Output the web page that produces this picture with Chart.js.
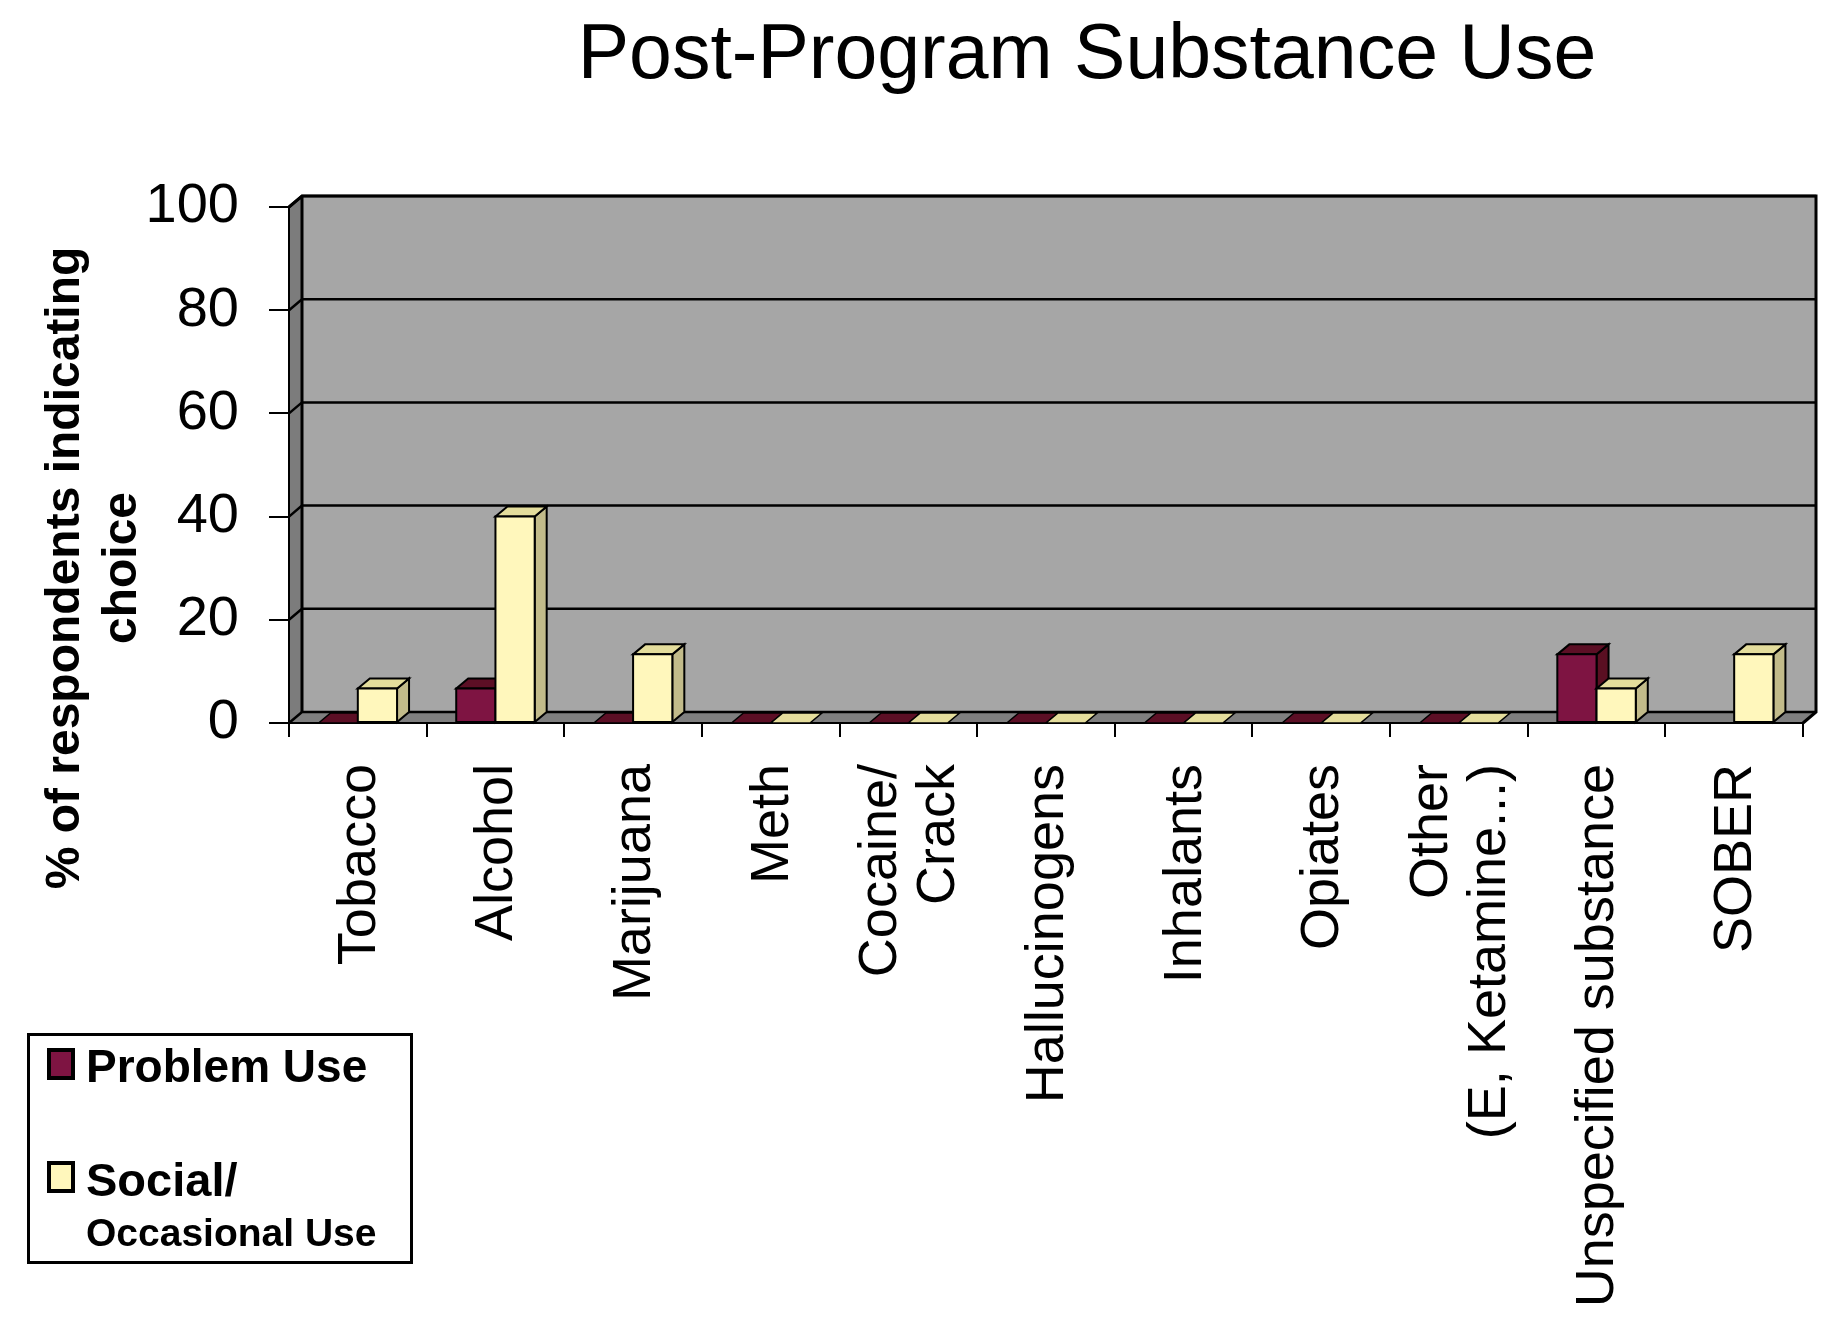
<!DOCTYPE html>
<html>
<head>
<meta charset="utf-8">
<title>Post-Program Substance Use</title>
<script src="https://cdn.jsdelivr.net/npm/chart.js@4.4.0/dist/chart.umd.min.js"></script>
<style>
  html, body { margin: 0; padding: 0; background: #ffffff; }
  canvas { display: block; }
</style>
</head>
<body>
<canvas id="chart" width="1829" height="1322"></canvas>
<script>
// ---- data ----
const categories = [
  'Tobacco', 'Alcohol', 'Marijuana', 'Meth', ['Cocaine/', 'Crack'],
  'Hallucinogens', 'Inhalants', 'Opiates', ['Other', '(E, Ketamine...)'],
  'Unspecified substance', 'SOBER'
];
const problemUse = [0, 6.7, 0, 0, 0, 0, 0, 0, 0, 13.3, null];
const socialUse  = [6.7, 40, 13.3, 0, 0, 0, 0, 0, 0, 6.7, 13.3];
const yTickValues = [0, 20, 40, 60, 80, 100];
const seriesNames = ['Problem Use', 'Social/ Occasional Use'];
const legendLines = [['Problem Use'], ['Social/', 'Occasional Use']];
const chartTitle = 'Post-Program Substance Use';
const yAxisTitle = ['% of respondents indicating', 'choice'];

// ---- look ----
const FONT = '"Liberation Sans", Arial, Helvetica, sans-serif';
const shades = [
  { front: '#7e1442', top: '#5c0f25', side: '#5a0f22' },
  { front: '#fff7bc', top: '#e4dd9c', side: '#c2bb8a' }
];
const WALL = { dx: 13, dy: -11 };   // depth of the back wall
const BAR  = { dx: 12, dy: -10 };   // depth of each bar

function poly(ctx, pts, fill, stroke, lw) {
  ctx.beginPath();
  ctx.moveTo(pts[0][0], pts[0][1]);
  for (let i = 1; i < pts.length; i++) ctx.lineTo(pts[i][0], pts[i][1]);
  ctx.closePath();
  if (fill) { ctx.fillStyle = fill; ctx.fill(); }
  if (stroke) { ctx.strokeStyle = stroke; ctx.lineWidth = lw; ctx.lineJoin = 'miter'; ctx.stroke(); }
}

// back wall, side wall, floor and gridlines on the wall
const wallsPlugin = {
  id: 'walls',
  beforeDraw(chart) {
    const { ctx, chartArea: a, scales: { y } } = chart;
    const { dx, dy } = WALL;
    ctx.save();
    // back wall
    poly(ctx, [[a.left + dx, a.top + dy], [a.right + dx, a.top + dy],
               [a.right + dx, a.bottom + dy], [a.left + dx, a.bottom + dy]], '#a6a6a6');
    // left side wall
    poly(ctx, [[a.left, a.top], [a.left + dx, a.top + dy],
               [a.left + dx, a.bottom + dy], [a.left, a.bottom]], '#7c7c7c');
    // floor
    poly(ctx, [[a.left, a.bottom], [a.left + dx, a.bottom + dy],
               [a.right + dx, a.bottom + dy], [a.right, a.bottom]], '#7f7f7f');
    // gridlines across side wall and back wall
    ctx.strokeStyle = '#000';
    ctx.lineWidth = 2.5;
    y.ticks.forEach(t => {
      const py = y.getPixelForValue(t.value);
      ctx.beginPath();
      ctx.moveTo(a.left, py);
      ctx.lineTo(a.left + dx, py + dy);
      ctx.lineTo(a.right + dx, py + dy);
      ctx.stroke();
    });
    // wall outline
    ctx.lineWidth = 3;
    ctx.beginPath();
    ctx.moveTo(a.left + dx, a.bottom + dy);
    ctx.lineTo(a.left + dx, a.top + dy);
    ctx.moveTo(a.left, a.top);
    ctx.lineTo(a.left + dx, a.top + dy);
    ctx.lineTo(a.right + dx, a.top + dy);
    ctx.lineTo(a.right + dx, a.bottom + dy);
    ctx.lineTo(a.right, a.bottom);
    ctx.stroke();
    ctx.restore();
  }
};

// bars drawn as boxes: front, top and right side faces, painted left to right
const barsPlugin = {
  id: 'bars3d',
  beforeDatasetDraw() { return false; },
  afterDatasetsDraw(chart) {
    const ctx = chart.ctx;
    const metas = chart.getSortedVisibleDatasetMetas().slice().sort((m1, m2) => m1.index - m2.index);
    const { dx, dy } = BAR;
    ctx.save();
    for (let i = 0; i < chart.data.labels.length; i++) {
      metas.forEach(meta => {
        const v = chart.data.datasets[meta.index].data[i];
        if (v === null || v === undefined) return;
        const el = meta.data[i];
        const { x, y, base, width } = el.getProps(['x', 'y', 'base', 'width'], true);
        const l = x - width / 2, r = x + width / 2;
        const c = shades[meta.index];
        if (base - y > 0.5) {
          poly(ctx, [[r, y], [r + dx, y + dy], [r + dx, base + dy], [r, base]], c.side, '#000', 2);
          poly(ctx, [[l, y], [l + dx, y + dy], [r + dx, y + dy], [r, y]], c.top, '#000', 2);
          poly(ctx, [[l, y], [r, y], [r, base], [l, base]], c.front, '#000', 2);
        } else {
          poly(ctx, [[l, base], [l + dx, base + dy], [r + dx, base + dy], [r, base]], c.top, '#000', 1.5);
        }
      });
    }
    ctx.restore();
  }
};

// category labels, titles and legend
const textPlugin = {
  id: 'texts',
  afterDraw(chart) {
    const { ctx, chartArea: a, scales: { x } } = chart;
    ctx.save();
    ctx.fillStyle = '#000';

    // category labels, rotated to read upward, ending just below the axis
    ctx.font = '54px ' + FONT;
    ctx.textAlign = 'right';
    ctx.textBaseline = 'middle';
    const lineH = 58;
    categories.forEach((lab, i) => {
      const lines = Array.isArray(lab) ? lab : [lab];
      const cx = x.getPixelForTick(i);
      lines.forEach((ln, k) => {
        const off = (k - (lines.length - 1) / 2) * lineH;
        ctx.save();
        ctx.translate(cx + off + 2, a.bottom + 41);
        ctx.rotate(-Math.PI / 2);
        ctx.fillText(ln, 0, 0);
        ctx.restore();
      });
    });

    // chart title
    ctx.font = '77px ' + FONT;
    ctx.textAlign = 'center';
    ctx.textBaseline = 'alphabetic';
    ctx.fillText(chartTitle, 1087, 78);

    // value axis title
    ctx.font = 'bold 48px ' + FONT;
    ctx.textAlign = 'center';
    ctx.textBaseline = 'middle';
    yAxisTitle.forEach((ln, k) => {
      ctx.save();
      ctx.translate(66 + k * 57, 568);
      ctx.rotate(-Math.PI / 2);
      ctx.fillText(ln, 0, 0);
      ctx.restore();
    });

    // legend
    ctx.lineWidth = 3;
    ctx.strokeStyle = '#000';
    ctx.strokeRect(28.5, 1034.5, 383, 228);
    const rows = [
      { sq: 1050, lines: [{ t: legendLines[0][0], y: 1082, f: 'bold 46px ' }] },
      { sq: 1163, lines: [{ t: legendLines[1][0], y: 1196, f: 'bold 47px ' },
                          { t: legendLines[1][1], y: 1246, f: 'bold 39px ' }] }
    ];
    rows.forEach((row, k) => {
      ctx.fillStyle = chart.data.datasets[k].backgroundColor;
      ctx.fillRect(49, row.sq, 24, 28);
      ctx.lineWidth = 4;
      ctx.strokeRect(49, row.sq, 24, 28);
      ctx.fillStyle = '#000';
      ctx.textAlign = 'left';
      ctx.textBaseline = 'alphabetic';
      row.lines.forEach(l => {
        ctx.font = l.f + FONT;
        ctx.fillText(l.t, 86, l.y);
      });
    });
    ctx.restore();
  }
};

new Chart(document.getElementById('chart'), {
  type: 'bar',
  data: {
    labels: categories,
    datasets: [
      { label: seriesNames[0], data: problemUse, backgroundColor: shades[0].front,
        borderColor: '#000', borderWidth: 2, categoryPercentage: 0.57, barPercentage: 1.0 },
      { label: seriesNames[1], data: socialUse, backgroundColor: shades[1].front,
        borderColor: '#000', borderWidth: 2, categoryPercentage: 0.57, barPercentage: 1.0 }
    ]
  },
  options: {
    responsive: false,
    animation: false,
    devicePixelRatio: 1,
    layout: { padding: { top: 207, right: 26, bottom: 0, left: 0 } },
    plugins: {
      legend: { display: false },
      title: { display: false },
      tooltip: { enabled: false }
    },
    scales: {
      x: {
        offset: true,
        grid: { offset: true, drawOnChartArea: false, drawTicks: true, tickLength: 14, color: '#000', lineWidth: 2 },
        border: { display: true, color: '#000', width: 2 },
        ticks: { display: false, autoSkip: false, maxRotation: 90, minRotation: 90 },
        afterFit(scale) { scale.height = 1322 - 723; }
      },
      y: {
        min: 0, max: 100,
        afterBuildTicks(scale) { scale.ticks = yTickValues.map(v => ({ value: v })); },
        grid: { drawOnChartArea: false, drawTicks: true, tickLength: 20, color: '#000', lineWidth: 2 },
        border: { display: true, color: '#000', width: 2 },
        ticks: { color: '#000', padding: 30, font: { family: FONT, size: 56 } },
        afterFit(scale) { scale.width = 289; }
      }
    }
  },
  plugins: [wallsPlugin, barsPlugin, textPlugin]
});
</script>
</body>
</html>
